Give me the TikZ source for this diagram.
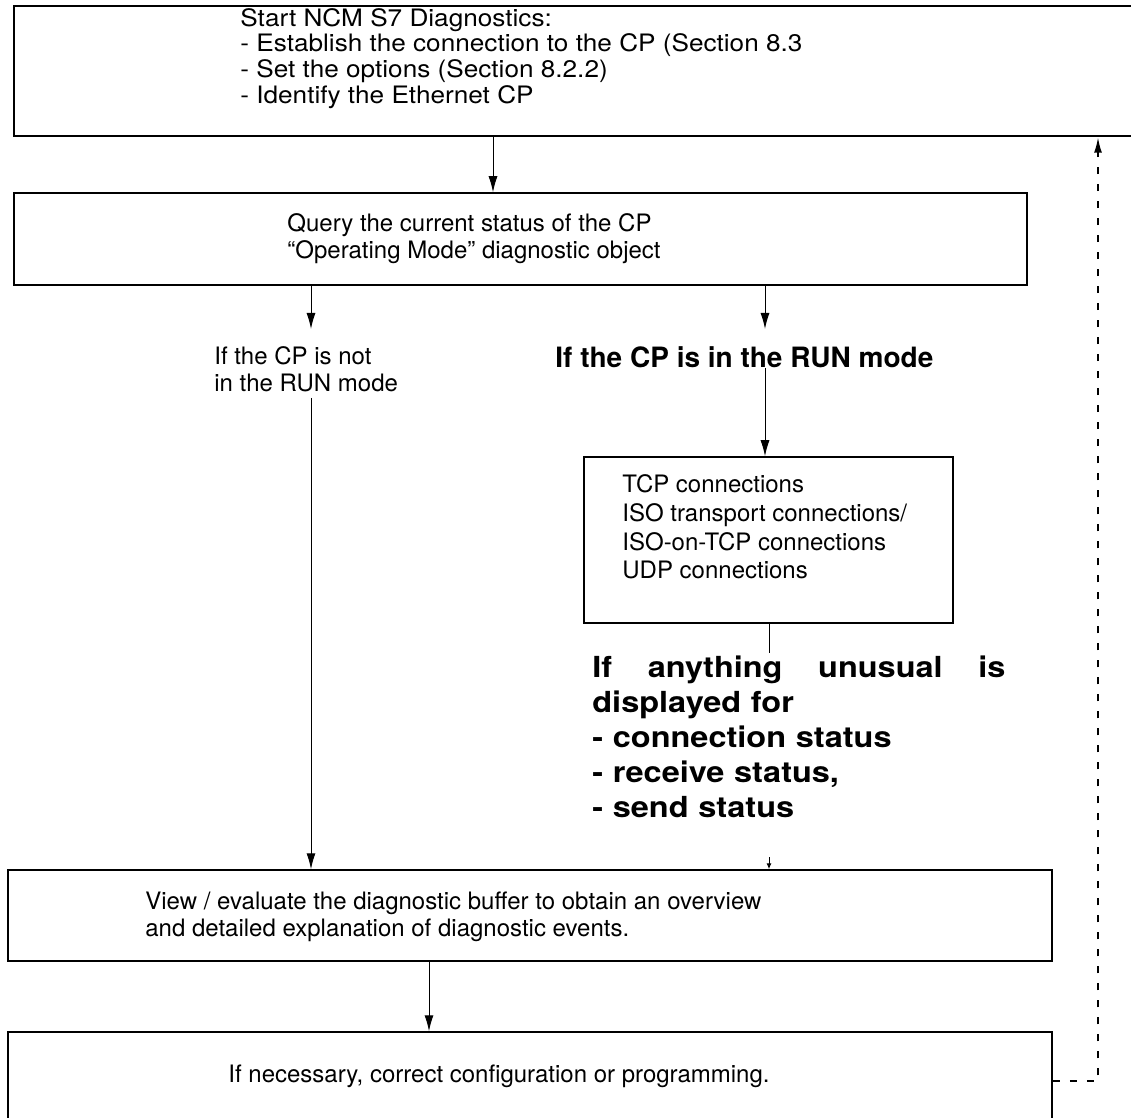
\documentclass[tikz,border=0pt]{standalone}
\usepackage{fontspec}
\setmainfont{TeX Gyre Heros}
\newfontfamily\widehelv[FakeStretch=1.09]{TeX Gyre Heros}
\newfontfamily\widehelvbold[FakeStretch=1.12]{TeX Gyre Heros Bold}
\usetikzlibrary{arrows.meta, positioning}

\begin{document}
\begin{tikzpicture}[
    x=0.5pt, y=-0.5pt,
    stepbox/.style={rectangle, draw=black, line width=0.75pt, inner sep=0pt},
    note/.style={anchor=west, inner sep=0pt, align=left,
                 font=\fontsize{12pt}{13.3pt}\selectfont},
    cond/.style={anchor=west, inner sep=0pt, align=left,
                 font=\fontsize{14pt}{17.5pt}\selectfont\bfseries},
    link/.style={-{Latex[length=8pt, width=4.5pt]}, line width=0.5pt},
    back/.style={-{Latex[length=8pt, width=4pt]}, line width=1.1pt,
                 dash pattern=on 3.5pt off 5pt},
]
\useasboundingbox (0,0) rectangle (1131,1118);

% Boxes
\node[stepbox, minimum width=563pt, minimum height=65pt]   (start) at (577,71) {};
\node[stepbox, minimum width=506.5pt, minimum height=46pt] (query) at (520.5,239) {};
\node[stepbox, minimum width=184.5pt, minimum height=83pt] (conns) at (768.5,540) {};
\node[stepbox, minimum width=522pt, minimum height=45.5pt] (buffer) at (530,915.5) {};
\node[stepbox, minimum width=522pt, minimum height=49pt]   (fix) at (530,1081) {};

% Texts
\node[note, font=\fontsize{12pt}{12.85pt}\selectfont\widehelv] (starttxt) at (240,58.5)
    {Start NCM S7 Diagnostics:\\
    - Establish the connection to the CP (Section 8.3\\
    - Set the options (Section 8.2.2)\\
    - Identify the Ethernet CP};
\node[note, font=\fontsize{12pt}{13.5pt}\selectfont] (querytxt) at (287,238.5)
    {Query the current status of the CP\\“Operating Mode” diagnostic object};
\node[note] (notrun) at (214,369) {If the CP is not\\in the RUN mode};
\node[cond] (run) at (555,357) {If the CP is in the RUN mode};
\node[note, font=\fontsize{12pt}{14.35pt}\selectfont] (connstxt) at (622,527)
    {TCP connections\\ISO transport connections/\\ISO-on-TCP connections\\UDP connections};
\node[cond, font=\fontsize{14.5pt}{17.5pt}\selectfont\widehelvbold, text width=206.5pt]
    (unusual) at (592,737)
    {If\hfill anything\hfill unusual\hfill is\\displayed for\\- connection status\\
     - receive status,\\- send status};
\node[note] (buffertxt) at (145,917) {View / evaluate the diagnostic buffer to obtain an overview\\
    and detailed explanation of diagnostic events.};
\node[note] (fixtxt) at (228,1076) {If necessary, correct configuration or programming.};

% Connector columns and free ends
\coordinate (colA) at (493,0);
\coordinate (colL) at (311,0);
\coordinate (colR) at (765,0);
\coordinate (colS) at (769,0);
\coordinate (colB) at (429,0);
\coordinate (colD) at (1098,0);
\coordinate (tipL) at (311,329);
\coordinate (tipR) at (765,329);
\coordinate (tipU) at (769,653);
\coordinate (tipS) at (769,857);

\draw[link] (start.south -| colA) -- (query.north -| colA);
\draw[link] (query.south -| colL) -- (tipL);
\draw[link] (query.south -| colR) -- (tipR);
\draw[link] (run.south -| colR) -- (conns.north -| colR);
\draw[line width=0.5pt] (conns.south -| colS) -- (tipU);
\draw[link] ([yshift=-3pt]notrun.south -| colL) -- (buffer.north -| colL);
\draw[-{Latex[length=3pt, width=2.5pt]}, line width=0.5pt] (tipS) -- (buffer.north -| colS);
\draw[link] (buffer.south -| colB) -- (fix.north -| colB);

% Return path
\draw[back] (fix.east) -| (start.south -| colD);

\end{tikzpicture}
\end{document}
